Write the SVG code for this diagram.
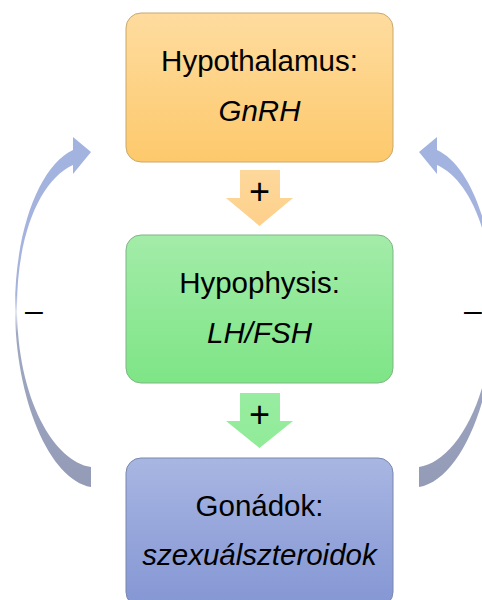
<svg xmlns="http://www.w3.org/2000/svg" width="482" height="600" viewBox="0 0 482 600">
  <defs>
    <linearGradient id="gOrange" x1="0" y1="0" x2="0" y2="1">
      <stop offset="0" stop-color="#fedc9f"/>
      <stop offset="1" stop-color="#fdc96c"/>
    </linearGradient>
    <linearGradient id="gGreen" x1="0" y1="0" x2="0" y2="1">
      <stop offset="0" stop-color="#a3eca9"/>
      <stop offset="1" stop-color="#7ee586"/>
    </linearGradient>
    <linearGradient id="gBlue" x1="0" y1="0" x2="0" y2="1">
      <stop offset="0" stop-color="#a8b6e2"/>
      <stop offset="1" stop-color="#8496d4"/>
    </linearGradient>
    <linearGradient id="gCurve" gradientUnits="userSpaceOnUse" x1="0" y1="137" x2="0" y2="487">
      <stop offset="0" stop-color="#a2b3e0"/>
      <stop offset="0.45" stop-color="#a6b4dc"/>
      <stop offset="0.5" stop-color="#e4e8f2"/>
      <stop offset="0.56" stop-color="#a0a9c4"/>
      <stop offset="1" stop-color="#939bb6"/>
    </linearGradient>
    <linearGradient id="gArrowO" x1="0" y1="0" x2="0" y2="1">
      <stop offset="0" stop-color="#fdd89c"/>
      <stop offset="1" stop-color="#fdd08a"/>
    </linearGradient>
    <linearGradient id="gArrowG" x1="0" y1="0" x2="0" y2="1">
      <stop offset="0" stop-color="#98eda0"/>
      <stop offset="1" stop-color="#90eb98"/>
    </linearGradient>
    <path id="curveArrow" d="M91,487 C50,480 15,400 15,307 C15,230 40,165 73,150 L73,137 L91,152 L73,174 L73,165 C40,180 17,235 17,307 C17,400 55,462 91,467 Z"/>
  </defs>
  <style>
    .box { stroke-width: 1; }
    .lbl { font-family: "Liberation Sans", Arial, sans-serif; font-size: 29.5px; fill: #000; text-anchor: middle; }
    .it { font-style: italic; }
    .plus { font-family: "Liberation Sans", Arial, sans-serif; font-size: 36px; fill: #000; text-anchor: middle; }
    .minus { font-family: "Liberation Sans", Arial, sans-serif; font-size: 32px; fill: #000; }
  </style>

  <g id="connectors">
    <use href="#curveArrow" fill="url(#gCurve)"/>
    <use href="#curveArrow" fill="url(#gCurve)" transform="translate(510,0) scale(-1,1)"/>
    <polygon points="240,170 280,170 280,198 293,198 259.5,226 226,198 240,198" fill="url(#gArrowO)"/>
    <polygon points="240,393 280,393 280,421 293,421 259.5,448 226,421 240,421" fill="url(#gArrowG)"/>
    <text class="plus" x="259.5" y="204">+</text>
    <text class="plus" x="259.5" y="427">+</text>
    <text class="minus" x="25" y="321">–</text>
    <text class="minus" x="464" y="321">–</text>
  </g>

  <g id="hypothalamus">
    <rect class="box" x="126" y="13" width="267" height="149" rx="15" fill="url(#gOrange)" stroke="#c9a86a"/>
    <text class="lbl" x="259.5" y="71">Hypothalamus:</text>
    <text class="lbl it" x="259.5" y="121">GnRH</text>
  </g>

  <g id="hypophysis">
    <rect class="box" x="126" y="235" width="267" height="148" rx="15" fill="url(#gGreen)" stroke="#7fb584"/>
    <text class="lbl" x="259.5" y="293">Hypophysis:</text>
    <text class="lbl it" x="259.5" y="343">LH/FSH</text>
  </g>

  <g id="gonadok">
    <rect class="box" x="126" y="458" width="267" height="149" rx="15" fill="url(#gBlue)" stroke="#7a86ad"/>
    <text class="lbl" x="259.5" y="516">Gonádok:</text>
    <text class="lbl it" x="259.5" y="565">szexuálszteroidok</text>
  </g>
</svg>
